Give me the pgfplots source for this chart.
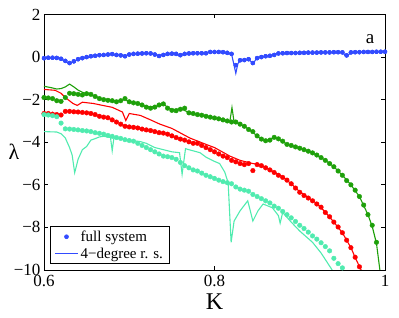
\documentclass[border=0pt]{standalone}
\usepackage{fontspec}
\setmainfont{Liberation Serif}
\usepackage{pgfplots}
\usepackage{pgfplotstable}
\pgfplotsset{compat=1.18}
\definecolor{cblue}{RGB}{50,75,255}
\definecolor{cgreen}{RGB}{30,160,10}
\definecolor{cred}{RGB}{255,0,0}
\definecolor{caqua}{RGB}{80,235,175}

\pgfplotstableread{
K l
0.600 -0.05
0.605 -0.03
0.610 -0.03
0.615 -0.04
0.620 -0.08
0.625 -0.18
0.630 -0.28
0.635 -0.20
0.640 -0.10
0.645 -0.05
0.650 0.00
0.655 0.04
0.660 0.06
0.665 0.09
0.670 0.10
0.675 0.12
0.680 0.14
0.685 0.10
0.690 0.08
0.695 0.04
0.700 0.12
0.705 0.15
0.710 0.16
0.715 0.17
0.720 0.18
0.725 0.17
0.730 0.12
0.735 0.05
0.740 0.10
0.745 0.15
0.750 0.16
0.755 0.15
0.760 0.09
0.765 0.15
0.770 0.17
0.775 0.18
0.780 0.18
0.785 0.18
0.790 0.18
0.795 0.24
0.800 0.24
0.805 0.24
0.810 0.23
0.815 0.20
0.820 0.15
0.825 -0.38
0.830 -0.15
0.835 -0.14
0.840 -0.10
0.845 -0.28
0.850 -0.05
0.855 0.00
0.860 0.04
0.865 0.06
0.870 0.10
0.875 0.17
0.880 0.18
0.885 0.19
0.890 0.19
0.895 0.19
0.900 0.20
0.905 0.20
0.910 0.21
0.915 0.21
0.920 0.21
0.925 0.22
0.930 0.22
0.935 0.22
0.940 0.23
0.945 0.23
0.950 0.22
0.955 0.08
0.960 0.22
0.965 0.23
0.970 0.23
0.975 0.24
0.980 0.24
0.985 0.24
0.990 0.25
0.995 0.25
1.000 0.25
}\bluedots

\pgfplotstableread{
K l
0.600 -0.05
0.610 -0.03
0.620 -0.08
0.625 -0.20
0.630 -0.32
0.635 -0.20
0.640 -0.10
0.650 0.00
0.660 0.06
0.670 0.10
0.680 0.14
0.690 0.08
0.695 0.04
0.700 0.12
0.710 0.16
0.720 0.18
0.730 0.12
0.735 0.05
0.740 0.10
0.750 0.16
0.760 0.09
0.765 0.15
0.780 0.18
0.790 0.18
0.795 0.24
0.810 0.23
0.820 0.15
0.825 -0.76
0.8275 -0.30
0.830 -0.18
0.840 -0.10
0.845 -0.30
0.850 -0.05
0.860 0.04
0.870 0.10
0.875 0.17
0.900 0.20
0.950 0.22
0.955 0.02
0.960 0.22
1.000 0.25
}\blueline

\pgfplotstableread{
K l
0.600 -1.90
0.605 -1.92
0.610 -1.95
0.615 -2.05
0.620 -2.08
0.625 -1.90
0.630 -1.70
0.635 -1.72
0.640 -1.75
0.645 -1.78
0.650 -1.72
0.655 -1.75
0.660 -1.85
0.665 -1.95
0.670 -2.00
0.675 -2.03
0.680 -2.05
0.685 -2.10
0.690 -2.05
0.695 -1.95
0.700 -2.10
0.705 -2.15
0.710 -2.18
0.715 -2.25
0.720 -2.35
0.725 -2.40
0.730 -2.35
0.735 -2.25
0.740 -2.20
0.745 -2.40
0.750 -2.50
0.755 -2.52
0.760 -2.45
0.765 -2.40
0.770 -2.62
0.775 -2.65
0.780 -2.70
0.785 -2.73
0.790 -2.78
0.795 -2.82
0.800 -2.86
0.805 -2.90
0.810 -2.95
0.815 -3.00
0.820 -3.05
0.825 -3.05
0.830 -3.15
0.835 -3.25
0.840 -3.40
0.845 -3.50
0.850 -3.70
0.855 -3.85
0.860 -3.93
0.865 -3.90
0.870 -3.77
0.875 -3.84
0.880 -3.95
0.885 -4.10
0.890 -4.15
0.895 -4.22
0.900 -4.28
0.905 -4.35
0.910 -4.42
0.915 -4.50
0.920 -4.60
0.925 -4.72
0.930 -4.85
0.935 -5.00
0.940 -5.15
0.945 -5.35
0.950 -5.55
0.955 -5.80
0.960 -6.00
0.965 -6.25
0.970 -6.55
0.975 -6.95
0.980 -7.40
0.985 -7.90
0.990 -8.70
}\greendots

\pgfplotstableread{
K l
0.600 -1.37
0.610 -1.45
0.615 -1.50
0.620 -1.48
0.625 -1.40
0.630 -1.27
0.635 -1.40
0.640 -1.55
0.645 -1.65
0.650 -1.72
0.660 -1.85
0.670 -1.98
0.680 -2.05
0.690 -2.05
0.695 -1.98
0.700 -2.10
0.710 -2.18
0.720 -2.33
0.730 -2.33
0.740 -2.22
0.750 -2.48
0.760 -2.42
0.770 -2.60
0.780 -2.70
0.790 -2.78
0.800 -2.86
0.810 -2.95
0.818 -3.03
0.8205 -2.37
0.823 -3.05
0.830 -3.15
0.840 -3.38
0.850 -3.70
0.855 -3.88
0.862 -3.92
0.870 -3.78
0.875 -3.85
0.885 -4.10
0.900 -4.28
0.910 -4.42
0.920 -4.60
0.930 -4.85
0.940 -5.15
0.950 -5.55
0.960 -6.00
0.970 -6.55
0.980 -7.40
0.985 -7.95
0.990 -8.75
0.994 -10.0
}\greenline

\pgfplotstableread{
K l
0.600 -2.65
0.605 -2.65
0.610 -2.68
0.615 -2.70
0.620 -2.72
0.625 -2.55
0.630 -2.55
0.635 -2.57
0.640 -2.58
0.645 -2.60
0.650 -2.62
0.655 -2.65
0.660 -2.70
0.665 -2.78
0.670 -2.82
0.675 -2.85
0.680 -2.95
0.685 -3.05
0.690 -3.15
0.695 -3.25
0.700 -3.28
0.705 -3.30
0.710 -3.33
0.715 -3.38
0.720 -3.42
0.725 -3.45
0.730 -3.50
0.735 -3.55
0.740 -3.57
0.745 -3.62
0.750 -3.70
0.755 -3.78
0.760 -3.85
0.765 -3.90
0.770 -3.98
0.775 -4.05
0.780 -4.05
0.785 -4.15
0.790 -4.25
0.795 -4.35
0.800 -4.45
0.805 -4.55
0.810 -4.65
0.815 -4.72
0.820 -4.85
0.825 -4.92
0.830 -5.00
0.835 -5.05
0.840 -5.00
0.845 -5.33
0.850 -5.05
0.855 -5.10
0.860 -5.20
0.865 -5.30
0.870 -5.42
0.875 -5.55
0.880 -5.65
0.885 -5.78
0.890 -5.95
0.895 -6.15
0.900 -6.35
0.905 -6.50
0.910 -6.62
0.915 -6.75
0.920 -6.90
0.925 -7.05
0.930 -7.30
0.935 -7.50
0.940 -7.75
0.945 -7.98
0.950 -8.25
0.955 -8.60
0.960 -8.95
0.965 -9.40
0.970 -9.85
}\reddots

\pgfplotstableread{
K l
0.600 -1.52
0.613 -1.56
0.620 -1.70
0.625 -1.90
0.634 -2.18
0.639 -2.27
0.645 -2.12
0.658 -2.18
0.670 -2.28
0.680 -2.36
0.692 -2.58
0.696 -2.98
0.700 -2.65
0.713 -2.74
0.725 -2.95
0.736 -3.15
0.750 -3.35
0.771 -3.80
0.790 -4.10
0.800 -4.25
0.818 -4.65
0.830 -4.85
0.845 -5.00
0.853 -5.05
0.860 -5.18
0.870 -5.40
0.880 -5.63
0.890 -5.95
0.900 -6.33
0.910 -6.60
0.920 -6.88
0.930 -7.28
0.940 -7.75
0.950 -8.25
0.960 -8.95
0.966 -9.50
0.972 -10.0
}\redline

\pgfplotstableread{
K l
0.600 -2.70
0.605 -2.72
0.610 -2.75
0.615 -2.80
0.620 -3.10
0.625 -3.37
0.630 -3.38
0.635 -3.40
0.640 -3.42
0.645 -3.45
0.650 -3.47
0.655 -3.50
0.660 -3.55
0.665 -3.58
0.670 -3.62
0.675 -3.68
0.680 -3.72
0.685 -3.78
0.690 -3.82
0.695 -3.88
0.700 -3.92
0.705 -3.95
0.710 -4.05
0.715 -4.15
0.720 -4.25
0.725 -4.35
0.730 -4.45
0.735 -4.55
0.740 -4.65
0.745 -4.68
0.750 -4.72
0.755 -4.80
0.760 -4.95
0.765 -5.10
0.770 -5.20
0.775 -5.30
0.780 -5.35
0.785 -5.45
0.790 -5.55
0.795 -5.62
0.800 -5.70
0.805 -5.78
0.810 -5.85
0.815 -5.90
0.820 -5.95
0.825 -6.10
0.830 -6.20
0.835 -6.25
0.840 -6.30
0.845 -6.45
0.850 -6.55
0.855 -6.65
0.860 -6.75
0.865 -6.85
0.870 -7.00
0.875 -7.10
0.880 -7.25
0.885 -7.40
0.890 -7.55
0.895 -7.72
0.900 -7.90
0.905 -8.05
0.910 -8.22
0.915 -8.40
0.920 -8.55
0.925 -8.72
0.930 -8.90
0.935 -9.10
0.940 -9.45
0.945 -9.70
0.950 -9.90
}\aquadots

\pgfplotstableread{
K l
0.600 -3.50
0.615 -3.52
0.620 -3.60
0.625 -3.80
0.630 -4.25
0.633 -4.60
0.636 -5.43
0.640 -4.80
0.645 -4.35
0.650 -4.20
0.655 -3.90
0.660 -3.83
0.665 -3.75
0.670 -3.72
0.675 -3.75
0.678 -3.78
0.680 -4.40
0.682 -3.80
0.690 -3.85
0.700 -3.90
0.713 -3.97
0.720 -4.05
0.730 -4.25
0.740 -4.35
0.750 -4.45
0.759 -4.49
0.762 -5.50
0.766 -4.30
0.770 -4.35
0.783 -4.49
0.790 -4.70
0.800 -4.90
0.806 -5.00
0.812 -5.40
0.816 -5.90
0.8195 -8.70
0.823 -7.70
0.830 -7.22
0.839 -6.75
0.845 -7.70
0.851 -7.22
0.857 -6.90
0.868 -7.08
0.875 -7.45
0.877 -7.80
0.880 -7.30
0.890 -7.75
0.900 -8.17
0.915 -8.70
0.925 -9.20
0.938 -10.0
}\aqualine

\begin{document}
\begin{tikzpicture}
\begin{axis}[
  scale only axis,
  width=341pt, height=255.5pt,
  xmin=0.6, xmax=1.0, ymin=-10, ymax=2,
  xtick={0.6,0.8,1.0}, xticklabels={0.6,0.8,1},
  ytick={-10,-8,-6,-4,-2,0,2},
  yticklabels={−10,−8,−6,−4,−2,0,2},
  tick align=inside, major tick length=4pt,
  tick style={black, line width=0.7pt},
  axis line style={line width=0.9pt},
  ticklabel style={font=\fontsize{17}{17}\selectfont},
  xticklabel style={yshift=-2pt},
  clip=true,
  legend style={at={(0,0)}, anchor=south west, xshift=6pt, yshift=6pt,
    font=\fontsize{15}{15}\selectfont, draw=black, line width=0.6pt,
    inner xsep=4pt, inner ysep=2pt, row sep=1pt, cells={anchor=west},
    /tikz/every even column/.append style={column sep=3pt}},
  legend cell align=left,
]
\addplot[only marks, mark=*, mark size=2.0pt, color=cblue,
  legend image code/.code={\path[fill=cblue] (11.5pt,0pt) circle[radius=2pt];}] table[x=K,y=l]{\bluedots};
\addlegendentry{full system}
\addplot[no marks, line width=1.1pt, color=cblue,
  legend image code/.code={\path[draw=cblue, line width=1.4pt] (0pt,0pt) -- (23pt,0pt);}] table[x=K,y=l]{\blueline};
\addlegendentry{4−degree r. s.}

\addplot[no marks, line width=1.1pt, color=cgreen, forget plot] table[x=K,y=l]{\greenline};
\addplot[only marks, mark=*, mark size=2.3pt, color=cgreen, forget plot] table[x=K,y=l]{\greendots};
\addplot[no marks, line width=1.1pt, color=cred, forget plot] table[x=K,y=l]{\redline};
\addplot[only marks, mark=*, mark size=2.3pt, color=cred, forget plot] table[x=K,y=l]{\reddots};
\addplot[no marks, line width=1.1pt, color=caqua, forget plot] table[x=K,y=l]{\aqualine};
\addplot[only marks, mark=*, mark size=2.3pt, color=caqua, forget plot] table[x=K,y=l]{\aquadots};
\addplot[only marks, mark=*, mark size=2.0pt, color=cblue, forget plot] table[x=K,y=l]{\bluedots};

\node[font=\fontsize{19}{19}\selectfont, anchor=center] at (rel axis cs:0.956,0.905) {a};
\end{axis}
\node[font=\fontsize{24}{24}\selectfont, anchor=center] at ([yshift=-32pt]current axis.south) {K};
\node[font=\fontsize{22}{22}\selectfont, anchor=center] at ([xshift=-30pt,yshift=-0.036*255.5pt]current axis.west) {λ};
\pgfresetboundingbox
\path ([xshift=-44pt,yshift=-48pt]current axis.south west) rectangle ([xshift=14pt,yshift=14.5pt]current axis.north east);
\end{tikzpicture}
\end{document}
